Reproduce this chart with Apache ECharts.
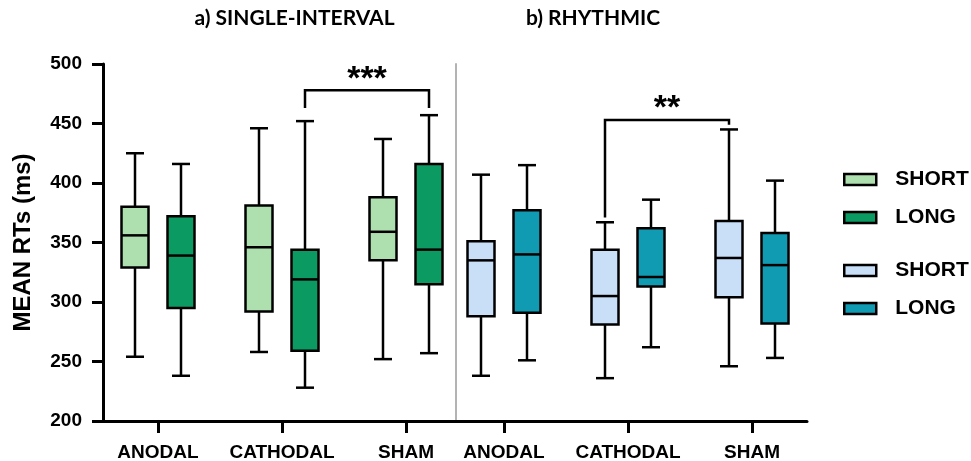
<!DOCTYPE html>
<html><head><meta charset="utf-8">
<script src="https://cdn.jsdelivr.net/npm/echarts@6/dist/echarts.min.js"></script>
<style>html,body{margin:0;padding:0;background:#fff}#c{width:971px;height:461px}</style>
</head><body><div id="c"></div>
<script>
// ---- data ----
const categories = ['ANODAL', 'CATHODAL', 'SHAM'];
const panelTitles = ['a) SINGLE-INTERVAL', 'b) RHYTHMIC'];
const yAxisName = 'MEAN RTs (ms)';
// each item: [min, Q1, median, Q3, max]
const singleShort = [[254, 329, 356, 380, 425], [258, 292, 346, 381, 446], [252, 335, 359, 388, 437]];
const singleLong  = [[238, 295, 339, 372, 416], [228, 259, 319, 344, 452], [257, 315, 344, 416, 457]];
const rhythmShort = [[238, 288, 335, 351, 407], [236, 281, 305, 344, 367], [246, 304, 337, 368, 445]];
const rhythmLong  = [[251, 291, 340, 377, 415], [262, 313, 321, 362, 386], [253, 282, 331, 358, 402]];
// significance: [fromCategory, toCategory, bracketLevel, leftLegEnd, rightLegEnd]
const singleSig = [[1, 2, 478, 463, 463]];
const rhythmSig = [[1, 2, 453, 371, 449]];
const singleSigLabel = '***';
const rhythmSigLabel = '**';

// ---- style ----
const FONT = '"Liberation Sans", Arial, Helvetica, sans-serif';
const BOX_W = 27, CAP_W = 18, LW = 2.5, SIDE = 23;
const C_GS = '#aedfae', C_GL = '#0b9a62', C_BS = '#c9def7', C_BL = '#119bb3';

function boxRenderer(offset) {
  return function (params, api) {
    const x = api.value(0);
    const p = i => api.coord([x, api.value(i)]);
    const pMin = p(1), pQ1 = p(2), pMed = p(3), pQ3 = p(4), pMax = p(5);
    const cx = pMin[0] + offset;
    const hw = BOX_W / 2, cw = CAP_W / 2;
    const ls = { stroke: '#000', lineWidth: LW };
    return { type: 'group', children: [
      { type: 'line', shape: { x1: cx, y1: pMax[1], x2: cx, y2: pQ3[1] }, style: ls },
      { type: 'line', shape: { x1: cx, y1: pQ1[1], x2: cx, y2: pMin[1] }, style: ls },
      { type: 'line', shape: { x1: cx - cw, y1: pMax[1], x2: cx + cw, y2: pMax[1] }, style: ls },
      { type: 'line', shape: { x1: cx - cw, y1: pMin[1], x2: cx + cw, y2: pMin[1] }, style: ls },
      { type: 'rect', shape: { x: cx - hw, y: pQ3[1], width: BOX_W, height: pQ1[1] - pQ3[1] },
        style: { fill: api.visual('color'), stroke: '#000', lineWidth: LW } },
      { type: 'line', shape: { x1: cx - hw, y1: pMed[1], x2: cx + hw, y2: pMed[1] }, style: ls }
    ]};
  };
}
function sigRenderer(offset, label) {
  return function (params, api) {
    const a = api.coord([api.value(0), api.value(2)]);
    const b = api.coord([api.value(1), api.value(2)]);
    const la = api.coord([api.value(0), api.value(3)]);
    const rb = api.coord([api.value(1), api.value(4)]);
    const x1 = a[0] + offset, x2 = b[0] + offset;
    return { type: 'group', children: [
      { type: 'polyline', shape: { points: [[x1, la[1]], [x1, a[1]], [x2, a[1]], [x2, rb[1]]] },
        style: { stroke: '#000', lineWidth: LW, fill: 'none' } },
      { type: 'text', x: (x1 + x2) / 2, y: a[1] - 11,
        style: { text: label, fill: '#000', fontSize: 34, fontWeight: 'bold', fontFamily: FONT,
                 align: 'center', verticalAlign: 'middle' } }
    ]};
  };
}
const toItems = arr => arr.map((v, i) => [i].concat(v));

function boxSeries(name, data, axisIdx, offset, color) {
  return { type: 'custom', name: name, xAxisIndex: axisIdx, yAxisIndex: axisIdx,
    renderItem: boxRenderer(offset), data: toItems(data),
    encode: { x: 0, y: [1, 2, 3, 4, 5] },
    itemStyle: { color: color, borderColor: '#000', borderWidth: LW }, silent: true, z: 3 };
}

const catAxis = gi => ({
  type: 'category', gridIndex: gi, data: categories, boundaryGap: true,
  axisLine: { show: false },
  axisTick: { show: true, alignWithLabel: true, length: 12, lineStyle: { color: '#000', width: 3 } },
  axisLabel: { show: true, interval: 0, hideOverlap: false, margin: 22, fontSize: 19, fontWeight: 'bold',
               color: '#000', fontFamily: FONT },
  splitLine: { show: false }
});

const legendText = { fontSize: 21, fontWeight: 'bold', color: '#000', fontFamily: FONT, padding: [0, 0, 0, 14] };
const legendItem = (name, color) => ({ name: name, icon: 'rect',
  itemStyle: { color: color, borderColor: '#000', borderWidth: LW } });

const option = {
  backgroundColor: '#fff',
  animation: false,
  grid: [
    { left: 96, width: 372, top: 64, height: 357, outerBoundsMode: 'none' },
    { left: 442, width: 372, top: 64, height: 357, outerBoundsMode: 'none' },
    { left: 103, width: 704, top: 64, height: 357, outerBoundsMode: 'none' }
  ],
  xAxis: [
    catAxis(0), catAxis(1),
    { type: 'value', gridIndex: 2, min: 0, max: 1,
      axisLine: { show: true, onZero: false, lineStyle: { color: '#000', width: 3 } },
      axisTick: { show: false }, axisLabel: { show: false }, splitLine: { show: false } }
  ],
  yAxis: [
    { type: 'value', gridIndex: 0, min: 200, max: 500, interval: 50, offset: -7,
      axisLine: { show: true, lineStyle: { color: '#000', width: 3 } },
      axisTick: { show: true, length: 11, lineStyle: { color: '#000', width: 3 } },
      axisLabel: { margin: 21, fontSize: 19, fontWeight: 'bold', color: '#000', fontFamily: FONT },
      splitLine: { show: false },
      name: yAxisName, nameLocation: 'middle', nameGap: 68,
      nameTextStyle: { fontSize: 24, fontWeight: 'bold', color: '#000', fontFamily: FONT } },
    { type: 'value', gridIndex: 1, min: 200, max: 500, interval: 50, offset: -14,
      axisLine: { show: true, lineStyle: { color: '#b3b3b3', width: 2 } },
      axisTick: { show: false }, axisLabel: { show: false }, splitLine: { show: false } },
    { type: 'value', gridIndex: 2, min: 0, max: 1, show: false }
  ],
  legend: [
    { orient: 'vertical', left: 843, top: 169, padding: 0, itemWidth: 32, itemHeight: 11, itemGap: 17,
      selectedMode: false, textStyle: legendText, formatter: n => n.split(' ')[0],
      data: [legendItem('SHORT a', C_GS), legendItem('LONG a', C_GL)] },
    { orient: 'vertical', left: 843, top: 260, padding: 0, itemWidth: 32, itemHeight: 11, itemGap: 17,
      selectedMode: false, textStyle: legendText, formatter: n => n.split(' ')[0],
      data: [legendItem('SHORT b', C_BS), legendItem('LONG b', C_BL)] }
  ],
  graphic: [
    { type: 'text', x: 294.5, y: 18, style: { text: panelTitles[0], fill: '#000', fontSize: 21,
      fontWeight: 'bold', fontFamily: 'Lato', align: 'center', verticalAlign: 'middle' } },
    { type: 'text', x: 593, y: 18, style: { text: panelTitles[1], fill: '#000', fontSize: 21,
      fontWeight: 'bold', fontFamily: 'Lato', align: 'center', verticalAlign: 'middle' } }
  ],
  series: [
    boxSeries('SHORT a', singleShort, 0, -SIDE, C_GS),
    boxSeries('LONG a', singleLong, 0, SIDE, C_GL),
    boxSeries('SHORT b', rhythmShort, 1, -SIDE, C_BS),
    boxSeries('LONG b', rhythmLong, 1, SIDE, C_BL),
    { type: 'custom', xAxisIndex: 0, yAxisIndex: 0, renderItem: sigRenderer(SIDE, singleSigLabel),
      data: singleSig, encode: { x: [0, 1], y: [2, 3, 4] }, silent: true, z: 4 },
    { type: 'custom', xAxisIndex: 1, yAxisIndex: 1, renderItem: sigRenderer(-SIDE, rhythmSigLabel),
      data: rhythmSig, encode: { x: [0, 1], y: [2, 3, 4] }, silent: true, z: 4 }
  ]
};
const chart = echarts.init(document.getElementById('c'), null, { renderer: 'canvas' });
chart.setOption(option);
</script></body></html>
